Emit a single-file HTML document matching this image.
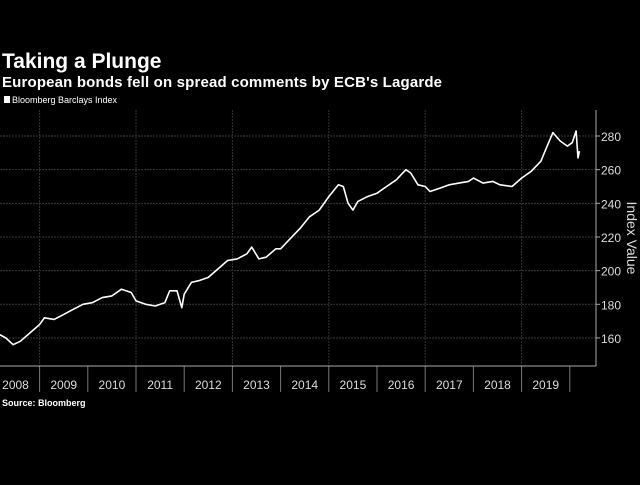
<!DOCTYPE html>
<html><head><meta charset="utf-8"><style>
body{margin:0;background:#000;width:640px;height:480px;overflow:hidden;font-family:"Liberation Sans",sans-serif;color:#fff}
</style></head><body>
<svg width="640" height="480" xmlns="http://www.w3.org/2000/svg">
<text x="2" y="68" font-size="21" font-weight="bold" fill="#fff">Taking a Plunge</text>
<text x="2" y="87" font-size="15" font-weight="bold" fill="#fff" textLength="440">European bonds fell on spread comments by ECB's Lagarde</text>
<g><rect x="4" y="96" width="6" height="7" fill="#fff"/><text x="12" y="103" font-size="9" fill="#fff">Bloomberg Barclays Index</text></g>
<g id="grid"></g><g id="axes"></g>
<path id="line" fill="none" stroke="#fff" stroke-width="1.6" stroke-linejoin="round"/>
<text transform="translate(627,238) rotate(90)" text-anchor="middle" font-size="14" fill="#ddd">Index Value</text>
<text x="2" y="406" font-size="9" font-weight="bold" fill="#fff">Source:  Bloomberg</text>
</svg>
<script>
const yTicks=[160,180,200,220,240,260,280];
const years=[2008,2009,2010,2011,2012,2013,2014,2015,2016,2017,2018,2019];
const dates=[2008.17,2008.3,2008.45,2008.6,2008.8,2009.0,2009.1,2009.3,2009.5,2009.7,2009.9,2010.1,2010.3,2010.5,2010.7,2010.9,2011.0,2011.2,2011.4,2011.6,2011.7,2011.85,2011.95,2012.0,2012.15,2012.3,2012.5,2012.7,2012.9,2013.1,2013.3,2013.4,2013.55,2013.7,2013.9,2014.0,2014.2,2014.4,2014.6,2014.8,2015.0,2015.2,2015.3,2015.4,2015.5,2015.6,2015.8,2016.0,2016.2,2016.4,2016.6,2016.7,2016.85,2017.0,2017.1,2017.3,2017.5,2017.7,2017.9,2018.0,2018.2,2018.4,2018.55,2018.8,2019.0,2019.2,2019.4,2019.5,2019.65,2019.8,2019.95,2020.05,2020.13,2020.17,2020.2];
const values=[162,160,156,158,163,168,172,171,174,177,180,181,184,185,189,187,182,180,179,181,188,188,178,186,193,194,196,201,206,207,210,214,207,208,213,213,219,225,232,236,244,251,250,240,236,241,244,246,250,254,260,258,251,250,247,249,251,252,253,255,252,253,251,250,255,259,265,272,282,277,274,276,283,267,271];
const NS="http://www.w3.org/2000/svg";
const X=t=>-8.6+(t-2008)*48.2;
const Y=v=>136+(280-v)*1.683;
const grid=document.getElementById('grid'),axes=document.getElementById('axes');
function mk(tag,attrs,parent){const e=document.createElementNS(NS,tag);for(const k in attrs)e.setAttribute(k,attrs[k]);parent.appendChild(e);return e;}
yTicks.forEach(v=>{
 const l=mk('line',{x1:0,x2:596,y1:Y(v),y2:Y(v),stroke:'#3a3a3a','stroke-width':1,'stroke-dasharray':'2,1'},grid);
 
 
 mk('line',{x1:596,x2:600,y1:Y(v),y2:Y(v),stroke:'#aaa'},axes);
 const t=mk('text',{x:601,y:Y(v)+5,'font-size':12,fill:'#ddd'},axes);
 t.textContent=v;
 
 
});
years.forEach((yr,i)=>{
 const xb=X(yr+1);
 if(i%2==0){const g=mk('line',{x1:xb,x2:xb,y1:110,y2:366,stroke:'#333','stroke-dasharray':'2,1'},grid);
 
 }
 mk('line',{x1:xb,x2:xb,y1:366,y2:392,stroke:'#777'},axes);
 const t=mk('text',{x:X(yr+0.5),y:389,'font-size':12,fill:'#ddd','text-anchor':'middle'},axes);
 t.textContent=yr;
 
 
});
mk('line',{x1:596,x2:596,y1:110,y2:366,stroke:'#aaa'},axes);
mk('line',{x1:0,x2:596,y1:366,y2:366,stroke:'#aaa'},axes);
document.getElementById('line').setAttribute('d',dates.map((d,i)=>(i?'L':'M')+X(d).toFixed(1)+','+Y(values[i]).toFixed(1)).join(''));
</script>
</body></html>
